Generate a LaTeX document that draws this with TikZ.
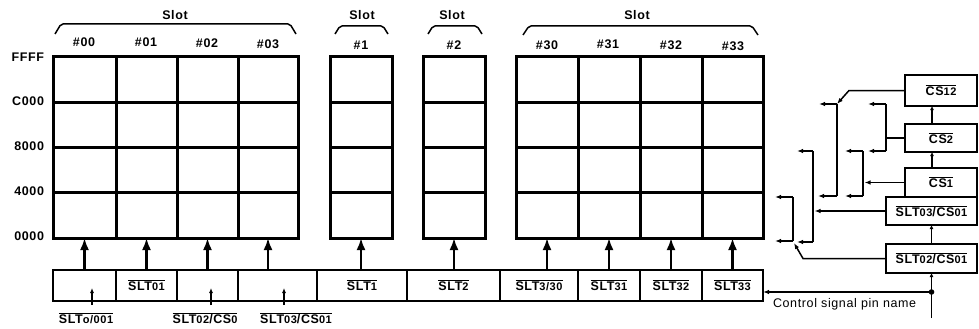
\documentclass[tikz,border=0pt]{standalone}
\usepackage{fontspec}
\newfontfamily\lab[LetterSpace=5]{Liberation Sans}
\usetikzlibrary{arrows.meta}
\newcommand\ov[1]{$\overline{\hbox{#1}}$}
\newcommand\dg[1]{{\fontsize{11}{12}\selectfont #1}}
\begin{document}
\begin{tikzpicture}[x=1pt,y=-1pt,
  every node/.style={font=\lab\bfseries\fontsize{12.5}{13}\selectfont, inner sep=0pt, outer sep=0pt},
  gcol/.style={draw, line width=3pt, minimum width=#1, minimum height=181pt},
  gline/.style={line width=3pt},
  barbox/.style={draw, line width=2.8pt, minimum width=#1, minimum height=31pt},
  chip/.style={draw, line width=2.8pt, minimum width=#1},
  bigarr/.style={line width=2.2pt, -{Latex[length=12pt,width=9pt]}},
  smarr/.style={line width=1.2pt, -{Latex[length=5pt,width=4pt]}},
  wire/.style={line width=1.5pt},
  warr/.style={line width=1.5pt, -{Latex[length=6pt,width=4.5pt]}},
  uparr/.style={line width=1.5pt, -{Latex[length=4pt,width=4pt]}},
  brace/.style={line width=1.5pt, rounded corners=2pt},
  plain/.style={font=\lab\fontsize{12.5}{13}\selectfont}]
\useasboundingbox (0,0) rectangle (979,329);

% ---- top labels
\node (sA) at (175,15) {Slot};
\draw[brace] (55,34) -- (61,24) -- (290,24) -- (296,34);
\node (sB) at (362,15) {Slot};
\draw[brace] (335,34) -- (340,26) -- (383,26) -- (388,34);
\node (sC) at (452,15) {Slot};
\draw[brace] (428,34) -- (433,26) -- (477,26) -- (482,34);
\node (sD) at (637,15) {Slot};
\draw[brace] (523,35) -- (529,26) -- (752,26) -- (758,35);

\node (h00) at (84,42) {\#00};
\node (h01) at (146,42) {\#01};
\node (h02) at (207,43) {\#02};
\node (h03) at (268,44) {\#03};
\node (h1) at (361,45) {\#1};
\node (h2) at (454,45) {\#2};
\node (h30) at (547,45) {\#30};
\node (h31) at (608,44) {\#31};
\node (h32) at (671,45) {\#32};
\node (h33) at (733,46) {\#33};

% ---- address labels
\node[anchor=east] (aF) at (44,57) {FFFF};
\node[anchor=east] (aC) at (44,101) {C000};
\node[anchor=east] (a8) at (44,146) {8000};
\node[anchor=east] (a4) at (44,191) {4000};
\node[anchor=east] (a0) at (44,236) {0000};

% ---- memory grids
\node[gcol=63pt] (g00) at (84.5,147.5) {};
\node[gcol=61pt] (g01) at (146.5,147.5) {};
\node[gcol=61pt] (g02) at (207.5,147.5) {};
\node[gcol=60pt] (g03) at (268,147.5) {};
\node[gcol=62pt] (g1) at (361,147.5) {};
\node[gcol=62pt] (g2) at (454,147.5) {};
\node[gcol=62pt] (g30) at (547,147.5) {};
\node[gcol=62pt] (g31) at (609,147.5) {};
\node[gcol=62pt] (g32) at (671,147.5) {};
\node[gcol=61pt] (g33) at (732.5,147.5) {};
\foreach \y in {102.25,147.5,192.75}{
  \draw[gline] (53,\y) -- (298,\y);
  \draw[gline] (330,\y) -- (392,\y);
  \draw[gline] (423,\y) -- (485,\y);
  \draw[gline] (516,\y) -- (763,\y);
}

% ---- select bar
\node[barbox=63pt] (b00) at (84.5,285.5) {};
\node[barbox=61pt] (b01) at (146.5,285.5) {\ov{SLT\dg{01}}};
\node[barbox=61pt] (b02) at (207.5,285.5) {};
\node[barbox=79pt] (b03) at (277.5,285.5) {};
\node[barbox=90pt] (b1) at (362,285.5) {\ov{SLT\dg{1}}};
\node[barbox=93pt] (b2) at (453.5,285.5) {\ov{SLT\dg{2}}};
\node[barbox=78pt] (b30) at (539,285.5) {\ov{SLT\dg{3/30}}};
\node[barbox=62pt] (b31) at (609,285.5) {\ov{SLT\dg{31}}};
\node[barbox=62pt] (b32) at (671,285.5) {\ov{SLT\dg{32}}};
\node[barbox=61pt] (b33) at (732.5,285.5) {\ov{SLT\dg{33}}};

\foreach \g/\b in {g00/b00,g01/b01,g02/b02,g03/b03,g1/b1,g2/b2,g30/b30,g31/b31,g32/b32,g33/b33}
  \draw[bigarr] (\g.south |- \b.north) -- (\g.south);

% ---- pin labels under bar
\node (l00) at (86,318) {\ov{SLT\dg{o/001}}};
\node (l02) at (205,318) {\ov{SLT\dg{02}/CS\dg{0}}};
\node (l03) at (296,318) {\ov{SLT\dg{03}/CS\dg{01}}};
\coordinate (s00) at (92,305);
\coordinate (s02) at (211,305);
\coordinate (s03) at (284,305);
\draw[smarr] (s00) -- ++(0,-17);
\draw[smarr] (s02) -- ++(0,-17);
\draw[smarr] (s03) -- ++(0,-17);

% ---- chip select blocks
\node[chip=72pt, minimum height=31pt] (r12) at (941,90.5) {\ov{CS\dg{12}}};
\node[chip=72pt, minimum height=28pt] (r2) at (941,138) {\ov{CS\dg{2}}};
\node[chip=72pt, minimum height=29pt] (r1) at (941,182.5) {\ov{CS\dg{1}}};
\node[chip=91pt, minimum height=28pt] (r03) at (931.5,211) {\ov{SLT\dg{03}/CS\dg{01}}};
\node[chip=91pt, minimum height=29pt] (r02) at (931.5,258.5) {\ov{SLT\dg{02}/CS\dg{01}}};

\draw[uparr] ([xshift=-9pt]r2.north) -- ([xshift=-9pt]r12.south);
\draw[uparr] ([xshift=-9pt]r1.north) -- ([xshift=-9pt]r2.south);
\draw[uparr] (r02.north) -- (r03.south);

% control signal pin
\coordinate (cdot) at (931.5,292);
\coordinate (cend) at (931.5,318);
\draw[wire] (cend) -- (cdot);
\draw[uparr] (cdot) -- (r02.south);
\fill (cdot) circle (2.8pt);
\draw[warr] (cdot) -- (b33.east |- cdot);
\node[plain, anchor=west] (ctl) at (773,304) {Control signal pin name};

% CS12 -> column x=837
\coordinate (v1t) at (837,104);
\coordinate (v1b) at (837,196);
\draw[warr] (r12.west) -- (849,90.5) -- (v1t);
\draw[wire] (v1t) -- (v1b);
\draw[warr] (v1t) -- ++(-18,0);
\draw[warr] (v1b) -- ++(-19,0);

% CS2 -> column x=886
\coordinate (v2t) at (886,104);
\coordinate (v2b) at (886,151);
\draw[wire] (r2.west) -- (r2.west -| v2t);
\draw[wire] (v2t) -- (v2b);
\draw[warr] (v2t) -- ++(-18,0);
\draw[warr] (v2b) -- ++(-18,0);

% CS1 -> column x=863
\coordinate (v3t) at (863,151);
\coordinate (v3b) at (863,196);
\draw[wire] (v3t) -- (v3b);
\draw[warr] (r1.west) -- ([xshift=1.5pt]r1.west -| v3t);
\draw[warr] (v3t) -- ++(-18,0);
\draw[warr] (v3b) -- ++(-18,0);

% SLT03/CS01 -> column x=813
\coordinate (v4t) at (813,151);
\coordinate (v4b) at (813,242);
\draw[wire] (v4t) -- (v4b);
\draw[warr] (r03.west) -- ([xshift=1.5pt]r03.west -| v4t);
\draw[warr] (v4t) -- ++(-16,0);
\draw[warr] (v4b) -- ++(-16,0);

% SLT02/CS01 -> column x=793
\coordinate (v5t) at (793,197);
\coordinate (v5b) at (793,241);
\draw[wire] (v5t) -- (v5b);
\draw[warr] (r02.west) -- (803,258.5) -- ([xshift=1pt,yshift=-2pt]v5b);
\draw[warr] (v5t) -- ++(-18,0);
\draw[warr] (v5b) -- ++(-18,0);
\end{tikzpicture}
\end{document}
